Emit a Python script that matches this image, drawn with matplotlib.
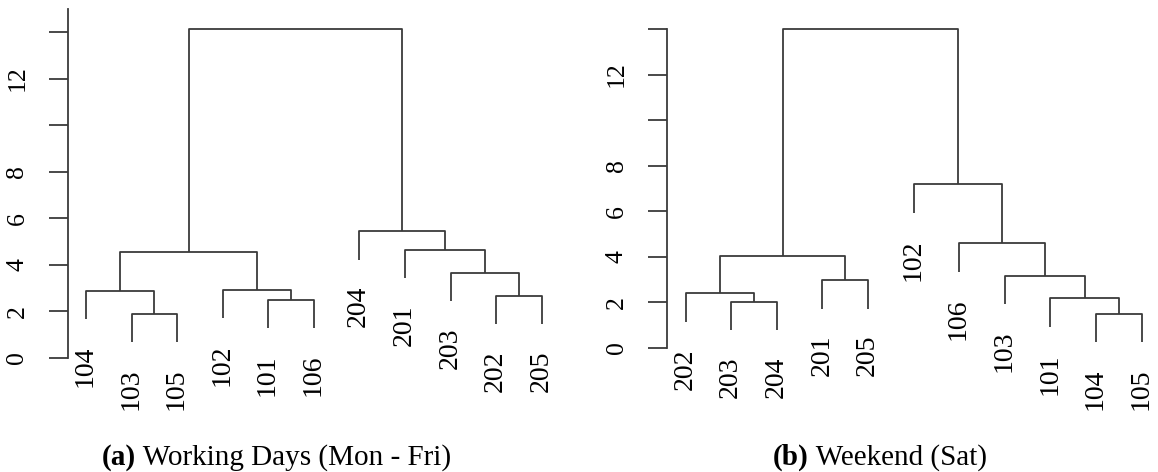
import matplotlib
matplotlib.use("Agg")
import matplotlib.pyplot as plt
import matplotlib.transforms as mtransforms

# ---------------- data ----------------
# leaf labels in display order
leaves_a = ["104", "103", "105", "102", "101", "106", "204", "201", "203", "202", "205"]
# merges: (child1, child2, height); negative = leaf position (1-based), positive = merge number
merges_a = [(-2, -3, 1.91), (-5, -6, 2.49), (-10, -11, 2.66), (-1, 1, 2.89),
            (-4, 2, 2.92), (-9, 3, 3.66), (4, 5, 4.56), (-8, 6, 4.64),
            (-7, 8, 5.45), (7, 9, 14.12)]

leaves_b = ["202", "203", "204", "201", "205", "102", "106", "103", "101", "104", "105"]
merges_b = [(-10, -11, 1.49), (-2, -3, 2.02), (-9, 1, 2.17), (-1, 2, 2.39),
            (-4, -5, 2.97), (-8, 3, 3.16), (4, 5, 4.03), (-7, 6, 4.59),
            (-6, 8, 7.18), (7, 9, 14.0)]

ytick_values = [0, 2, 4, 6, 8, 10, 12, 14]
ytick_labels = ["0", "2", "4", "6", "8", "", "12", ""]

caption_a_bold = "(a)"
caption_a_text = " Working Days (Mon - Fri)"
caption_b_bold = "(b)"
caption_b_text = " Weekend (Sat)"

# ---------------- style ----------------
W, H, DPI = 1158, 472, 100
LC = "#3a3a3a"
LW = 1.3
SERIF = ["Liberation Serif", "DejaVu Serif"]
plt.rcParams["font.family"] = SERIF

fig = plt.figure(figsize=(W / DPI, H / DPI), dpi=DPI)


def px_axes(left, right, bottom_px, top_px):
    # pixel coords measured from top of image
    return [left / W, (H - bottom_px) / H, (right - left) / W, (bottom_px - top_px) / H]


def draw_dendro(ax, leaves, merges):
    heights = [m[2] for m in merges]
    hang = 0.1 * (max(heights) - min(heights))
    pos = {}  # merge idx -> (x, h)

    def node(c):
        if c < 0:
            return float(-c), None
        return pos[c]

    for i, (a, b, h) in enumerate(merges, start=1):
        xa, ha = node(a)
        xb, hb = node(b)
        ya = ha if ha is not None else h - hang
        yb = hb if hb is not None else h - hang
        ax.plot([xa, xa, xb, xb], [ya, h, h, yb], color=LC, lw=LW,
                solid_capstyle="butt", clip_on=False)
        pos[i] = ((xa + xb) / 2.0, h)
        for c, x_, hh in ((a, xa, ha), (b, xb, hb)):
            if c < 0:
                off = mtransforms.offset_copy(ax.transData, fig=fig, x=-0.5, y=-19, units="points")
                ax.text(x_, h - hang, leaves[-c - 1], rotation=90, ha="center", va="top",
                        fontsize=20, color="black", transform=off, clip_on=False)


def style_axes(ax, ylim):
    ax.set_ylim(*ylim)
    for s in ("top", "right", "bottom"):
        ax.spines[s].set_visible(False)
    ax.spines["left"].set_color(LC)
    ax.spines["left"].set_linewidth(LW)
    ax.set_xticks([])
    ax.set_yticks(ytick_values)
    ax.set_yticklabels(ytick_labels, rotation=90, va="center", fontsize=18.5)
    ax.tick_params(axis="y", direction="out", length=14, width=LW, color=LC, pad=14.5)
    ax.patch.set_visible(False)


# left panel
ax1 = fig.add_axes(px_axes(68, 86 + 10.4 * 45.57, 358, 358 - 15 * 23.29))
ax1.set_xlim(1 - 18 / 45.57, 11.4)
style_axes(ax1, (0, 15))
draw_dendro(ax1, leaves_a, merges_a)

# right panel
ax2 = fig.add_axes(px_axes(667.3, 685.7 + 10.3 * 45.6, 347.7, 29))
ax2.set_xlim(1 - 18.4 / 45.6, 11.3)
style_axes(ax2, (0, 14))
draw_dendro(ax2, leaves_b, merges_b)

# captions
def caption(xc, bold, rest):
    y = (H - 465) / H
    t1 = fig.text(0, y, bold, fontweight="bold", fontsize=21, va="baseline", ha="left")
    t2 = fig.text(0, y, rest, fontsize=21, va="baseline", ha="left")
    fig.canvas.draw()
    r = fig.canvas.get_renderer()
    w1 = t1.get_window_extent(r).width
    w2 = t2.get_window_extent(r).width
    x0 = xc - (w1 + w2) / 2
    t1.set_x(x0 / W)
    t2.set_x((x0 + w1) / W)

caption(276, caption_a_bold, caption_a_text)
caption(880, caption_b_bold, caption_b_text)

fig.savefig("out.png", dpi=DPI)
